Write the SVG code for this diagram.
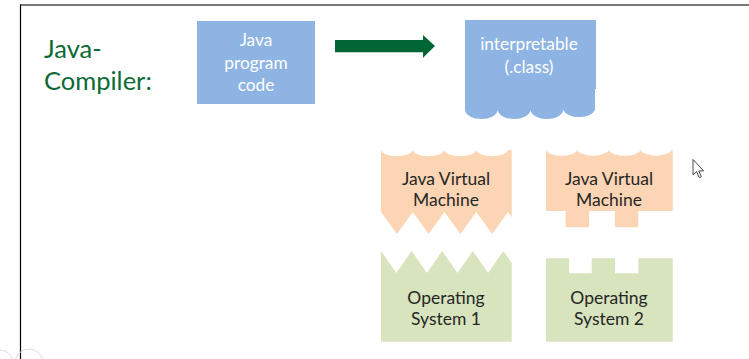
<svg xmlns="http://www.w3.org/2000/svg" width="749" height="359" viewBox="0 0 749 359">
<style>
.lbl{font-family:Lato,"Liberation Sans",sans-serif;text-anchor:middle}
.w{fill:#ffffff;font-size:17.3px}
.d{fill:#262626;font-size:17.5px}
.blue{fill:#8DB4E2}
.peach{fill:#FCD5B4}
.green{fill:#D7E4BD}
</style>
<rect x="0" y="0" width="749" height="359" fill="#ffffff"/>
<g id="frame">
<line x1="20" y1="5" x2="749" y2="5" stroke="#4a4a4a" stroke-width="1.6"/>
<line x1="20.5" y1="4.5" x2="20.5" y2="359" stroke="#000000" stroke-width="1.2"/>
<circle cx="29" cy="363" r="14" fill="none" stroke="#dddddd" stroke-width="1"/>
<circle cx="0" cy="363" r="13" fill="none" stroke="#dddddd" stroke-width="1"/>
</g>
<g id="title">
<text class="lbl" x="44" y="58" style="text-anchor:start;font-size:25.5px;fill:#0C6B35">Java-</text>
<text class="lbl" x="44" y="90" style="text-anchor:start;font-size:25.5px;fill:#0C6B35">Compiler:</text>
</g>
<g id="java-code">
<rect class="blue" x="197" y="21" width="118" height="83"/>
<text class="lbl w" x="256" y="46">Java</text>
<text class="lbl w" x="256" y="69">program</text>
<text class="lbl w" x="256" y="91">code</text>
</g>
<g id="connectors">
<path d="M335,40 H423 V35 L435,46 L423,57.7 V52.3 H335 Z" fill="#006633"/>
</g>
<g id="class-file">
<path class="blue" d="M465,20 H596 V89 H595 V110 A16.4 9.5 0 0 1 563.25,110 A16.4 9.5 0 0 1 530.5,110 A16.4 9.5 0 0 1 497.75,110 A16.4 9.5 0 0 1 465,110 Z"/>
<text class="lbl w" x="529" y="50">interpretable</text>
<text class="lbl w" x="529" y="73">(.class)</text>
</g>
<g id="jvm1">
<path class="peach" d="M381,150 A16 7 0 0 0 412.75,150 A16 7 0 0 0 444.5,150 A16 7 0 0 0 476.25,150 A16 7 0 0 0 508,150 L511.7,150 V217.1 L508,212 L492.1,234 L476.25,212 L460.4,234 L444.5,212 L428.6,234 L412.75,212 L396.9,234 L381,212 Z"/>
<text class="lbl d" x="446" y="185">Java Virtual</text>
<text class="lbl d" x="446" y="206">Machine</text>
</g>
<g id="jvm2">
<path class="peach" d="M546,150 A16 7 0 0 0 577.5,150 A16 7 0 0 0 608.9,150 A16 7 0 0 0 640.4,150 A16 7 0 0 0 671.8,150 L672.7,150 V211 H638.3 V227.3 H615 V211 H589 V227.3 H565.7 V211 H546 Z"/>
<text class="lbl d" x="609" y="185">Java Virtual</text>
<text class="lbl d" x="609" y="206">Machine</text>
</g>
<g id="os1">
<path class="green" d="M381,251 L396.3,273 L411.6,251 L426.9,273 L442.2,251 L457.5,273 L472.8,251 L488.1,273 L503.4,251 L511.7,262.9 V341.7 H381 Z"/>
<text class="lbl d" x="446" y="304">Operating</text>
<text class="lbl d" x="446" y="325">System 1</text>
</g>
<g id="os2">
<path class="green" d="M546,258.3 H569 V273.3 H591.7 V258.3 H615 V273.3 H638.3 V258.3 H672.7 V341.7 H546 Z"/>
<text class="lbl d" x="609" y="304">Operating</text>
<text class="lbl d" x="609" y="325">System 2</text>
</g>
<g id="cursor">
<path d="M693,159.5 V175 L696.6,171.6 L699.2,177.6 L701.3,176.7 L698.8,170.9 L703.6,170.9 Z" fill="#ffffff" stroke="#333333" stroke-width="0.9" stroke-linejoin="round"/>
</g>
</svg>
